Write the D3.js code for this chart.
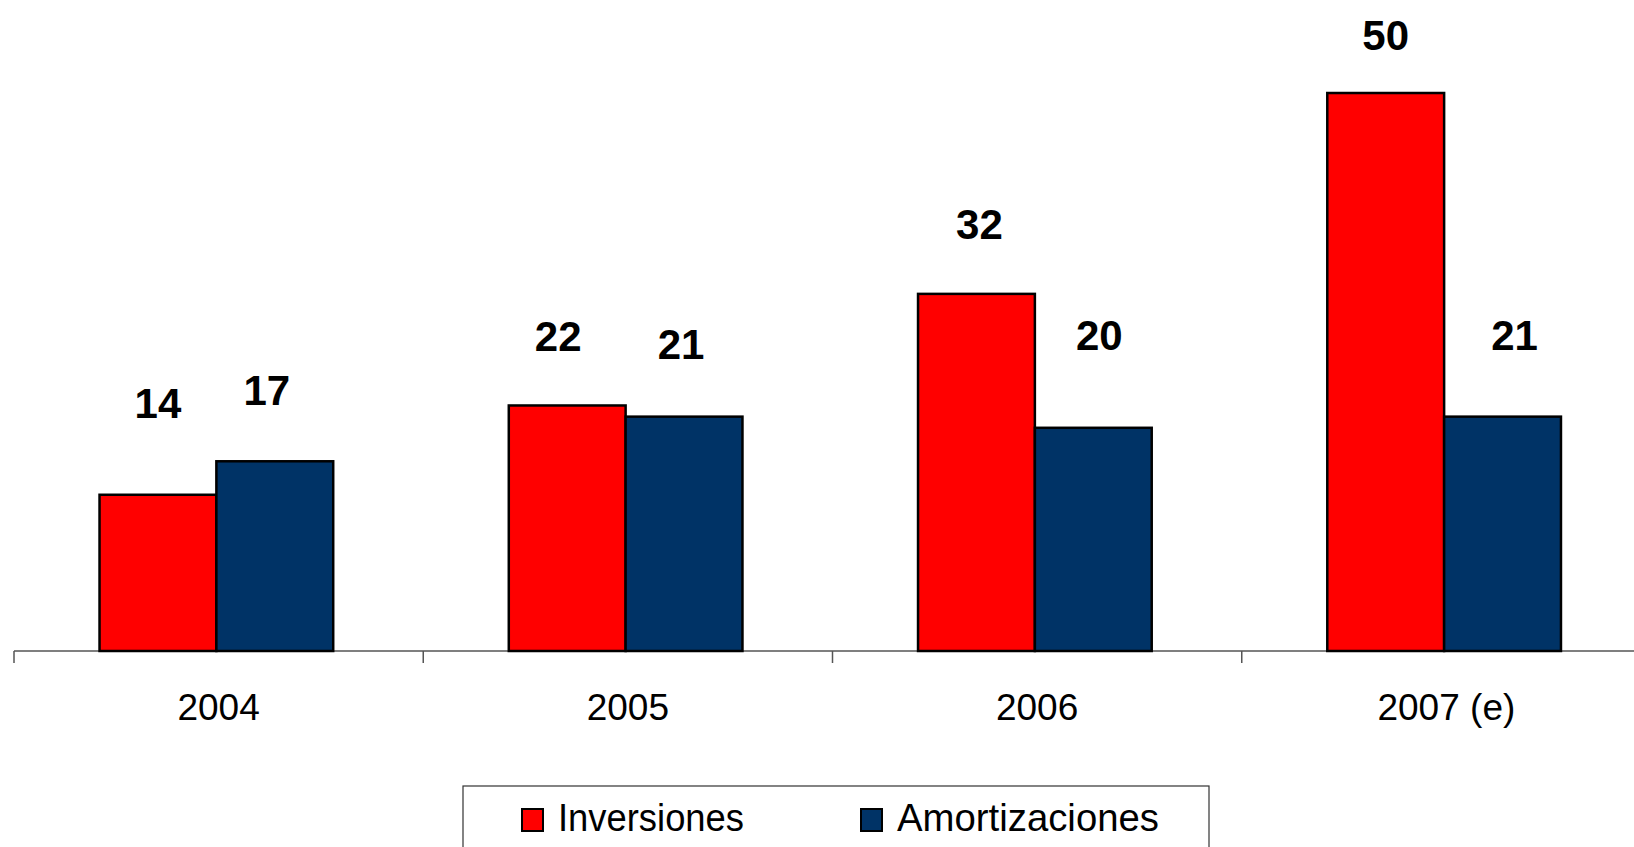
<!DOCTYPE html>
<html>
<head>
<meta charset="utf-8">
<script src="https://cdn.jsdelivr.net/npm/d3@7"></script>
<style>
  body { margin: 0; background: #fff; }
  svg { display: block; font-family: "Liberation Sans", Arial, sans-serif; }
</style>
</head>
<body>
<div id="chart"></div>
<script>
var years = ["2004", "2005", "2006", "2007 (e)"];
var seriesNames = ["Inversiones", "Amortizaciones"];
var inversiones = [14, 22, 32, 50];
var amortizaciones = [17, 21, 20, 21];
var seriesColors = ["#ff0000", "#003366"];

// hand placed value labels in the original: [dx, lift above bar top]
var labelNudge = [
  [[0, 77], [-8, 56]],
  [[-9, 54], [-3, 58]],
  [[3, 55], [6, 78]],
  [[0, 43], [12, 67]]
];

var width = 1634,
  height = 847;

var svg = d3.select("#chart").append("svg")
  .attr("width", width)
  .attr("height", height);

var x0 = d3.scaleBand()
  .domain(years)
  .range([14, 1651])
  .padding(0);

var x1 = d3.scaleBand()
  .domain(seriesNames)
  .range([x0.step() * 0.209, x0.step() * 0.78]);

var y = d3.scaleLinear()
  .domain([0, 50])
  .range([651, 93]);

var rows = years.map(function(yr, i) {
  return { year: yr, values: [inversiones[i], amortizaciones[i]] };
});

// axis line and category boundary ticks
svg.append("line")
  .attr("x1", x0.range()[0]).attr("x2", width)
  .attr("y1", y(0)).attr("y2", y(0))
  .attr("stroke", "#555").attr("stroke-width", 1.5);

svg.selectAll(".boundary")
  .data(years)
  .enter().append("line")
  .attr("class", "boundary")
  .attr("x1", function(d) { return x0(d); })
  .attr("x2", function(d) { return x0(d); })
  .attr("y1", y(0)).attr("y2", y(0) + 12)
  .attr("stroke", "#555").attr("stroke-width", 1.5);

var groups = svg.selectAll(".group")
  .data(rows)
  .enter().append("g")
  .attr("class", "group")
  .attr("transform", function(d) { return "translate(" + x0(d.year) + ",0)"; });

groups.selectAll("rect")
  .data(function(d) { return d.values; })
  .enter().append("rect")
  .attr("x", function(d, i) { return x1(seriesNames[i]); })
  .attr("width", x1.bandwidth())
  .attr("y", function(d) { return y(d); })
  .attr("height", function(d) { return y(0) - y(d); })
  .attr("fill", function(d, i) { return seriesColors[i]; })
  .attr("stroke", "#000")
  .attr("stroke-width", 2.5);

groups.each(function(row, gi) {
  d3.select(this).selectAll(".val")
    .data(row.values)
    .enter().append("text")
    .attr("class", "val")
    .attr("x", function(d, i) { return x1(seriesNames[i]) + x1.bandwidth() / 2 + labelNudge[gi][i][0]; })
    .attr("y", function(d, i) { return y(d) - labelNudge[gi][i][1]; })
    .attr("text-anchor", "middle")
    .attr("font-size", 42)
    .attr("font-weight", "bold")
    .attr("fill", "#000")
    .text(function(d) { return d; });
});

// category labels
var xAxis = d3.axisBottom(x0).tickSize(0).tickPadding(0);
var axisG = svg.append("g")
  .attr("transform", "translate(0," + y(0) + ")")
  .call(xAxis);
axisG.select(".domain").remove();
axisG.selectAll("text")
  .attr("dy", null)
  .attr("y", 69)
  .attr("font-family", "\"Liberation Sans\", Arial, sans-serif")
  .attr("font-size", 37)
  .attr("fill", "#000");

// legend
var legend = svg.append("g");
legend.append("rect")
  .attr("x", 463).attr("y", 786)
  .attr("width", 746).attr("height", 80)
  .attr("fill", "#fff")
  .attr("stroke", "#333")
  .attr("stroke-width", 1.2);

var legendX = [522, 861];
var legendTextLen = [186, 262];
var items = legend.selectAll(".item")
  .data(seriesNames)
  .enter().append("g")
  .attr("class", "item")
  .attr("transform", function(d, i) { return "translate(" + legendX[i] + ",809)"; });

items.append("rect")
  .attr("width", 21).attr("height", 22)
  .attr("fill", function(d, i) { return seriesColors[i]; })
  .attr("stroke", "#000")
  .attr("stroke-width", 2);

items.append("text")
  .attr("x", 36).attr("y", 22)
  .attr("font-size", 39)
  .attr("textLength", function(d, i) { return legendTextLen[i]; })
  .attr("lengthAdjust", "spacingAndGlyphs")
  .attr("fill", "#000")
  .text(function(d) { return d; });
</script>
</body>
</html>
